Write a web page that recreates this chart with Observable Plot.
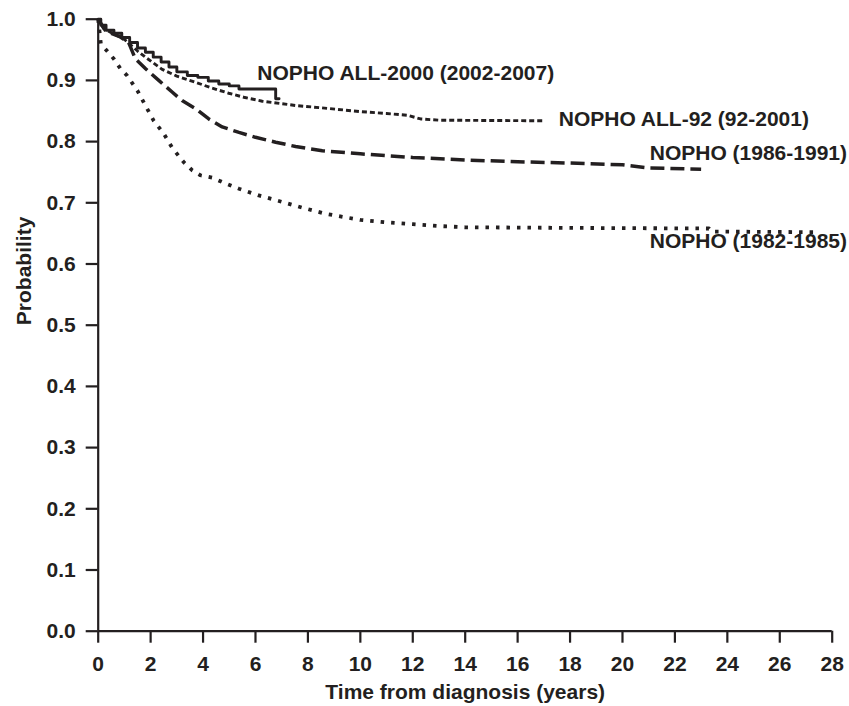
<!DOCTYPE html>
<html>
<head>
<meta charset="utf-8">
<script src="https://cdn.jsdelivr.net/npm/d3@7"></script>
<script src="https://cdn.jsdelivr.net/npm/@observablehq/plot@0.6"></script>
<style>
  html, body { margin: 0; padding: 0; background: #fff; }
</style>
</head>
<body>
<div id="chart"></div>
<script>
// ---- Data ----
const xTicks = [0, 2, 4, 6, 8, 10, 12, 14, 16, 18, 20, 22, 24, 26, 28];
const yTicks = [0, 0.1, 0.2, 0.3, 0.4, 0.5, 0.6, 0.7, 0.8, 0.9, 1.0];

const seriesNames = ["NOPHO ALL-2000 (2002-2007)", "NOPHO ALL-92 (92-2001)", "NOPHO (1986-1991)", "NOPHO (1982-1985)"];

const all2000T = [0, 0.1, 0.3, 0.6, 0.9, 1.2, 1.5, 1.8, 2.1, 2.4, 2.7, 3.0, 3.4, 3.8, 4.2, 4.6, 5.0, 5.37, 6.77, 6.9];
const all2000P = [1.0, 0.99, 0.982, 0.977, 0.97, 0.962, 0.953, 0.946, 0.938, 0.93, 0.922, 0.914, 0.908, 0.905, 0.899, 0.894, 0.891, 0.886, 0.870, 0.870];

const all92T = [0, 0.2, 0.5, 1, 1.5, 1.8, 2.44, 3, 3.71, 4.3, 4.98, 5.6, 6.26, 7, 7.53, 8.8, 10, 11, 11.8, 12.3, 13, 17];
const all92P = [1.0, 0.985, 0.978, 0.967, 0.948, 0.938, 0.918, 0.907, 0.897, 0.888, 0.879, 0.872, 0.866, 0.862, 0.859, 0.854, 0.849, 0.846, 0.843, 0.837, 0.835, 0.834];

const n8691T = [0, 0.3, 0.8, 1.16, 1.42, 1.81, 2.31, 2.82, 3.2, 3.71, 4.22, 4.73, 5.37, 6.0, 6.77, 7.53, 8.55, 10, 11, 12, 14, 16, 18, 20, 21, 23];
const n8691P = [1.0, 0.98, 0.972, 0.962, 0.935, 0.919, 0.9, 0.881, 0.867, 0.854, 0.837, 0.824, 0.815, 0.807, 0.799, 0.792, 0.785, 0.78, 0.777, 0.774, 0.77, 0.767, 0.765, 0.762, 0.757, 0.755];

const n8285T = [0, 0.1, 0.6, 0.85, 1.1, 1.5, 1.8, 2.12, 2.5, 2.82, 3.27, 3.59, 3.9, 4.35, 4.73, 5.37, 6.13, 6.89, 7.79, 8.68, 10, 11, 12, 13, 14, 18, 23.3, 23.4, 27.3];
const n8285P = [1.0, 0.96, 0.935, 0.919, 0.908, 0.883, 0.859, 0.834, 0.813, 0.79, 0.766, 0.753, 0.745, 0.741, 0.734, 0.723, 0.712, 0.703, 0.692, 0.682, 0.672, 0.668, 0.665, 0.662, 0.66, 0.659, 0.658, 0.653, 0.652];

// label anchors (data coordinates)
const labelT = [6.07, 17.57, 21.04, 21.04];
const labelP = [0.911, 0.837, 0.781, 0.637];

// ---- Build tables ----
const toRows = (T, P) => T.map((t, i) => ({t, p: P[i]}));
const s2000 = toRows(all2000T, all2000P);
const s92 = toRows(all92T, all92P);
const s8691 = toRows(n8691T, n8691P);
const s8285 = toRows(n8285T, n8285P);
const labels = seriesNames.map((name, i) => ({name, t: labelT[i], p: labelP[i]}));

const ink = "#231f20";

const chart = Plot.plot({
  width: 849,
  height: 706,
  marginLeft: 97.7,
  marginRight: 17.3,
  marginTop: 18.7,
  marginBottom: 75.3,
  style: {
    fontFamily: "'Liberation Sans', Arial, Helvetica, sans-serif",
    fontSize: "21px",
    fontWeight: "bold",
    color: ink,
    background: "#fff"
  },
  x: {domain: [0, 28]},
  y: {domain: [0, 1]},
  marks: [
    Plot.axisX({ticks: xTicks, tickSize: 12, tickPadding: 13, strokeWidth: 2.2, stroke: ink, fill: ink, label: null, tickFormat: d => String(d)}),
    Plot.axisY({ticks: yTicks, tickSize: 12, tickPadding: 10.5, strokeWidth: 2.2, stroke: ink, fill: ink, label: null, tickFormat: d3.format(".1f")}),
    Plot.ruleX([0], {stroke: ink, strokeWidth: 2.2}),
    Plot.ruleY([0], {stroke: ink, strokeWidth: 2.2}),
    Plot.line(s8285, {x: "t", y: "p", stroke: ink, strokeWidth: 3.8, strokeDasharray: "3.5,7", strokeLinecap: "butt"}),
    Plot.line(s8691, {x: "t", y: "p", stroke: ink, strokeWidth: 3.5, strokeDasharray: "14,6", strokeLinecap: "butt"}),
    Plot.line(s92, {x: "t", y: "p", stroke: ink, strokeWidth: 2.9, strokeDasharray: "5,3", strokeLinecap: "butt"}),
    Plot.line(s2000, {x: "t", y: "p", stroke: ink, strokeWidth: 2.9, curve: "step-after"}),
    Plot.text(labels, {x: "t", y: "p", text: "name", textAnchor: "start", lineAnchor: "middle", fill: ink}),
    Plot.text(["Time from diagnosis (years)"], {frameAnchor: "bottom", dy: 60.8, lineAnchor: "middle", fill: ink}),
    Plot.text(["Probability"], {frameAnchor: "left", dx: -73.7, rotate: -90, lineAnchor: "middle", fill: ink})
  ]
});
document.getElementById("chart").appendChild(chart);
</script>
</body>
</html>
